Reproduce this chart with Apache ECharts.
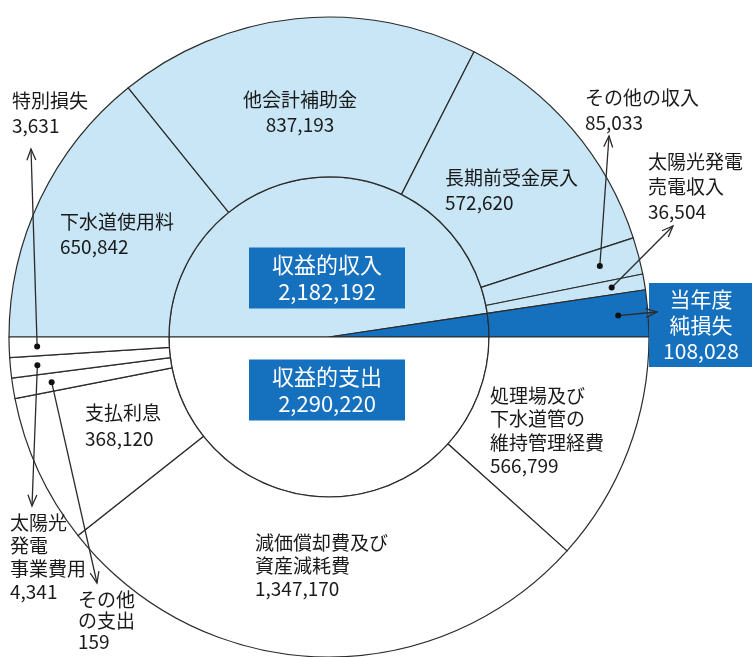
<!DOCTYPE html>
<html><head><meta charset="utf-8">
<script src="https://cdn.jsdelivr.net/npm/echarts@6/dist/echarts.min.js"></script>
<style>html,body{margin:0;padding:0;background:#fff}#c{width:752px;height:657px}</style>
</head><body><div id="c"></div>
<script>
// ---- data ----
const revenueNames = ['下水道使用料', '他会計補助金', '長期前受金戻入', 'その他の収入', '太陽光発電\n売電収入', '当年度\n純損失'];
const revenueValues = [650842, 837193, 572620, 85033, 36504, 108028];
const expenseNames = ['処理場及び\n下水道管の\n維持管理経費', '減価償却費及び\n資産減耗費', '支払利息', 'その他\nの支出', '太陽光\n発電\n事業費用', '特別損失'];
const expenseValues = [566799, 1347170, 368120, 159, 4341, 3631];
const totalNames = ['収益的収入', '当年度純損失', '収益的支出'];
const totalValues = [2182192, 108028, 2290220];

// ---- style / layout ----
const fmt = v => v.toLocaleString('en-US');
const FONT = '"Noto Sans CJK JP", "Noto Sans", sans-serif';
const LIGHT = '#c8e6f5', DARK = '#1570bd', LINE = '#2b2b2b';
const CX = 329, CY = 337, R0 = 160, R1 = 320;

const revenueLabelPos = [
  {x: 60, y: 209}, {x: 300, y: 87, align: 'center'}, {x: 445, y: 165},
  {x: 585, y: 85}, {x: 648, y: 149}, {x: 701, y: 283, align: 'center'}
];
const expenseLabelPos = [
  {x: 490, y: 384}, {x: 255, y: 531}, {x: 85, y: 400},
  {x: 78, y: 589}, {x: 10, y: 511}, {x: 12, y: 88}
];
const expenseLineHeights = [23.5, 23, 26, 21, 23, 25];
const totalLabelPos = [{x: 327, y: 278}, null, {x: 327, y: 390}];

// arrows: series index, item index, radius of start dot, arrow tip
const arrows = [
  {s: 1, i: 3, r: 280, tip: [609, 136]},
  {s: 1, i: 4, r: 287, tip: [673, 226]},
  {s: 1, i: 5, r: 290, tip: [657, 312]},
  {s: 2, i: 5, r: 292, tip: [31, 149]},
  {s: 2, i: 4, r: 293, tip: [32, 506]},
  {s: 2, i: 3, r: 281, tip: [97, 583]}
];

const baseLabel = {show: true, position: 'inside', color: '#1a1a1a', fontFamily: FONT, fontSize: 19, lineHeight: 25, align: 'left'};

const revenueData = revenueNames.map((n, i) => ({
  name: n, value: revenueValues[i],
  itemStyle: {color: i === 5 ? DARK : LIGHT},
  label: Object.assign({}, baseLabel, {formatter: '{b}\n' + fmt(revenueValues[i])},
    i === 5 ? {color: '#fff', backgroundColor: DARK, fontSize: 21, lineHeight: 26, padding: [3, 6, 3, 6], width: 92, align: 'center'} : {},
    i === 1 ? {align: 'center'} : {})
}));
const expenseData = expenseNames.map((n, i) => ({
  name: n, value: expenseValues[i],
  itemStyle: {color: '#ffffff'},
  label: Object.assign({}, baseLabel, {formatter: '{b}\n' + fmt(expenseValues[i]), lineHeight: expenseLineHeights[i]})
}));
const totalData = totalNames.map((n, i) => ({
  name: n, value: totalValues[i],
  itemStyle: {color: [LIGHT, DARK, '#ffffff'][i]},
  label: i === 1 ? {show: false} : {show: true, position: 'inside', formatter: '{b}\n' + fmt(totalValues[i]),
    color: '#fff', backgroundColor: DARK, fontFamily: FONT, fontSize: 22, lineHeight: 27,
    padding: [4, 12, 3, 12], width: 132, align: 'center'}
}));

function layoutFrom(pos) {
  return function (p) {
    const q = pos[p.dataIndex];
    if (!q) return {};
    return {x: q.x, y: q.y, align: q.align || 'left', verticalAlign: q.vAlign || 'top', moveOverlap: null, hideOverlap: false};
  };
}

const common = {
  type: 'pie', center: [CX, CY], clockwise: true, avoidLabelOverlap: false,
  labelLine: {show: false}, emphasis: {disabled: true}, silent: true,
  itemStyle: {borderColor: LINE, borderWidth: 1.2}
};

const chart = echarts.init(document.getElementById('c'), null, {renderer: 'canvas'});
chart.setOption({
  animation: false,
  backgroundColor: '#ffffff',
  series: [
    Object.assign({}, common, {
      name: 'total', radius: [0, R0], startAngle: 180, endAngle: -180, data: totalData,
      labelLayout: function (p) {
        const q = totalLabelPos[p.dataIndex];
        return q ? {x: q.x, y: q.y, align: 'center', verticalAlign: 'middle'} : {};
      }
    }),
    Object.assign({}, common, {
      name: 'revenue', radius: [R0, R1], startAngle: 180, endAngle: 0, data: revenueData,
      labelLayout: layoutFrom(revenueLabelPos)
    }),
    Object.assign({}, common, {
      name: 'expense', radius: [R0, R1], startAngle: 0, endAngle: -180, minAngle: 3.7, data: expenseData,
      labelLayout: layoutFrom(expenseLabelPos)
    })
  ]
});

function arrowEls() {
  const els = [];
  const model = chart.getModel();
  arrows.forEach(a => {
    const data = model.getSeriesByIndex(a.s).getData();
    const L = data.getItemLayout(a.i);
    const mid = (L.startAngle + L.endAngle) / 2;
    const sx = L.cx + a.r * Math.cos(mid), sy = L.cy + a.r * Math.sin(mid);
    const tx = a.tip[0], ty = a.tip[1];
    const ang = Math.atan2(ty - sy, tx - sx);
    const h = 12, w = 0.38;
    els.push({type: 'line', z: 100, silent: true, shape: {x1: sx, y1: sy, x2: tx, y2: ty}, style: {stroke: LINE, lineWidth: 1.3}});
    els.push({type: 'polyline', z: 100, silent: true, shape: {points: [
      [tx - h * Math.cos(ang - w), ty - h * Math.sin(ang - w)], [tx, ty],
      [tx - h * Math.cos(ang + w), ty - h * Math.sin(ang + w)]]},
      style: {stroke: LINE, lineWidth: 1.3, fill: null}});
    els.push({type: 'circle', z: 100, silent: true, shape: {cx: sx, cy: sy, r: 3}, style: {fill: '#111'}});
  });
  return els;
}
chart.setOption({graphic: arrowEls()});
</script>
</body></html>
